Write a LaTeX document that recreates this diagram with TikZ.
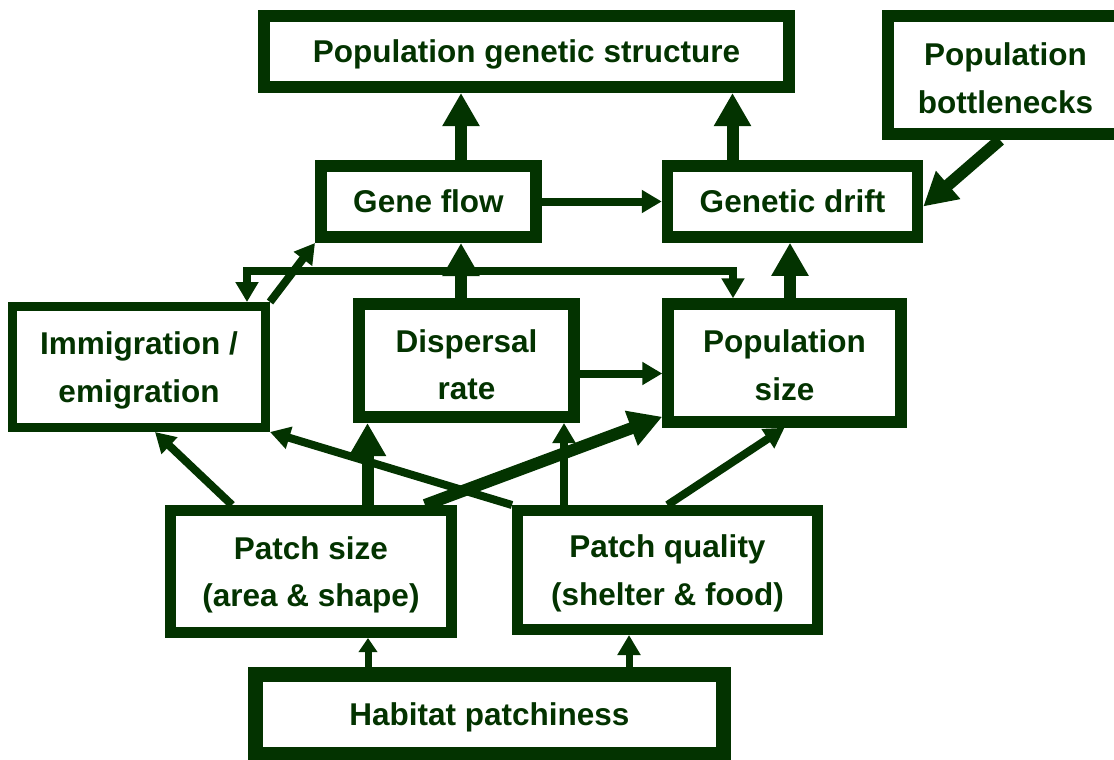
\documentclass[tikz,border=0pt]{standalone}
\usepackage{fontspec}
\setmainfont{Liberation Sans}
\usepackage{tikz}
\usetikzlibrary{arrows.meta,calc}
\definecolor{dkgreen}{RGB}{3,51,0}

\begin{document}
\begin{tikzpicture}[x=1pt,y=-1pt,
  box/.style={draw=dkgreen,fill=white,text=dkgreen,align=center,inner sep=0pt,outer sep=auto,
    text depth=0pt,font=\fontsize{31.5}{47.5}\selectfont\bfseries},
  fattip/.tip={Triangle[length=33pt,width=35pt]},
  slimtip/.tip={Triangle[length=20pt,width=22pt]},
  smalltip/.tip={Triangle[length=14pt,width=18pt]},
  fat/.style={draw=dkgreen,line width=12pt,-fattip},
  slim/.style={draw=dkgreen,line width=8pt,-slimtip}]
\useasboundingbox (0,0) rectangle (1114,760);
\node[box,line width=12pt,minimum width=525pt,minimum height=71pt] (pgs) at (526.5,51.5) {Population genetic structure};
\node[box,line width=12pt,minimum width=236pt,minimum height=118pt,text height=76.5pt] (neck) at (1005.5,75) {Population\\bottlenecks};
\node[box,line width=12pt,minimum width=215pt,minimum height=71pt] (gf) at (428.5,201.5) {Gene flow};
\node[box,line width=11.5pt,minimum width=250pt,minimum height=71pt] (gd) at (792.5,201.5) {Genetic drift};
\node[box,line width=9pt,minimum width=253pt,minimum height=121pt] (imm) at (139,367) {Immigration /\\emigration};
\node[box,line width=12pt,minimum width=215pt,minimum height=113pt,text height=78pt] (disp) at (466.5,360.5) {Dispersal\\rate};
\node[box,line width=11.5pt,minimum width=233pt,minimum height=118pt,text height=74.5pt] (pop) at (784.5,363) {Population\\size};
\node[box,line width=11pt,minimum width=281pt,minimum height=122pt] (ps) at (311,571.5) {Patch size\\(area \& shape)};
\node[box,line width=11pt,minimum width=300pt,minimum height=119pt] (pq) at (667.5,570) {Patch quality\\(shelter \& food)};
\node[box,line width=15pt,minimum width=468pt,minimum height=80pt] (hab) at (489.5,714) {Habitat patchiness};

% top row
\coordinate (gfup) at ([xshift=32.5pt]gf.north);
\draw[fat] (gfup) -- (gfup |- pgs.south);
\coordinate (gdup) at ([xshift=-60pt]gd.north);
\draw[fat] (gdup) -- (gdup |- pgs.south);
\draw[fat] ([xshift=-5.5pt]neck.south) -- ($(gd.east)+(0,5)$);
\draw[slim] (gf.east) -- (gd.west);

% middle row
\draw[slim] (imm.north east) -- (gf.south west);
\coordinate (fbl) at ([xshift=108pt]imm.north);
\coordinate (fbr) at ([xshift=-51.5pt]pop.north);
\draw[slim,slimtip-slimtip] (fbl) -- ++(0,-31) -| (fbr);
\coordinate (dup) at ([xshift=32.5pt]gf.south);
\draw[fat] (dup |- disp.north) -- (dup);
\coordinate (pup) at ([xshift=5.5pt]pop.north);
\draw[fat] (pup) -- (pup |- gd.south);
\coordinate (d2p) at ([yshift=-13pt]disp.east);
\draw[slim] (d2p) -- (d2p -| pop.west);

% patches
\draw[slim] ([xshift=-79pt]ps.north) -- ([xshift=16pt]imm.south);
\coordinate (psup) at ([xshift=56.5pt]ps.north);
\draw[fat] (psup) -- (psup |- disp.south);
\draw[fat] ([xshift=114pt]ps.north) -- ($(pop.south west)+(0,-11)$);
\draw[slim] (pq.north west) -- (imm.south east);
\coordinate (pqup) at ([xshift=-103.5pt]pq.north);
\draw[slim] (pqup) -- (pqup |- disp.south);
\draw[slim] (pq.north) -- (pop.south);

% habitat
\coordinate (hl) at ([xshift=-121.5pt]hab.north);
\draw[slim,line width=7pt,-smalltip] (hl) -- (hl |- ps.south);
\coordinate (hr) at ([xshift=139.5pt]hab.north);
\draw[slim,line width=7pt] (hr) -- (hr |- pq.south);
\end{tikzpicture}
\end{document}
